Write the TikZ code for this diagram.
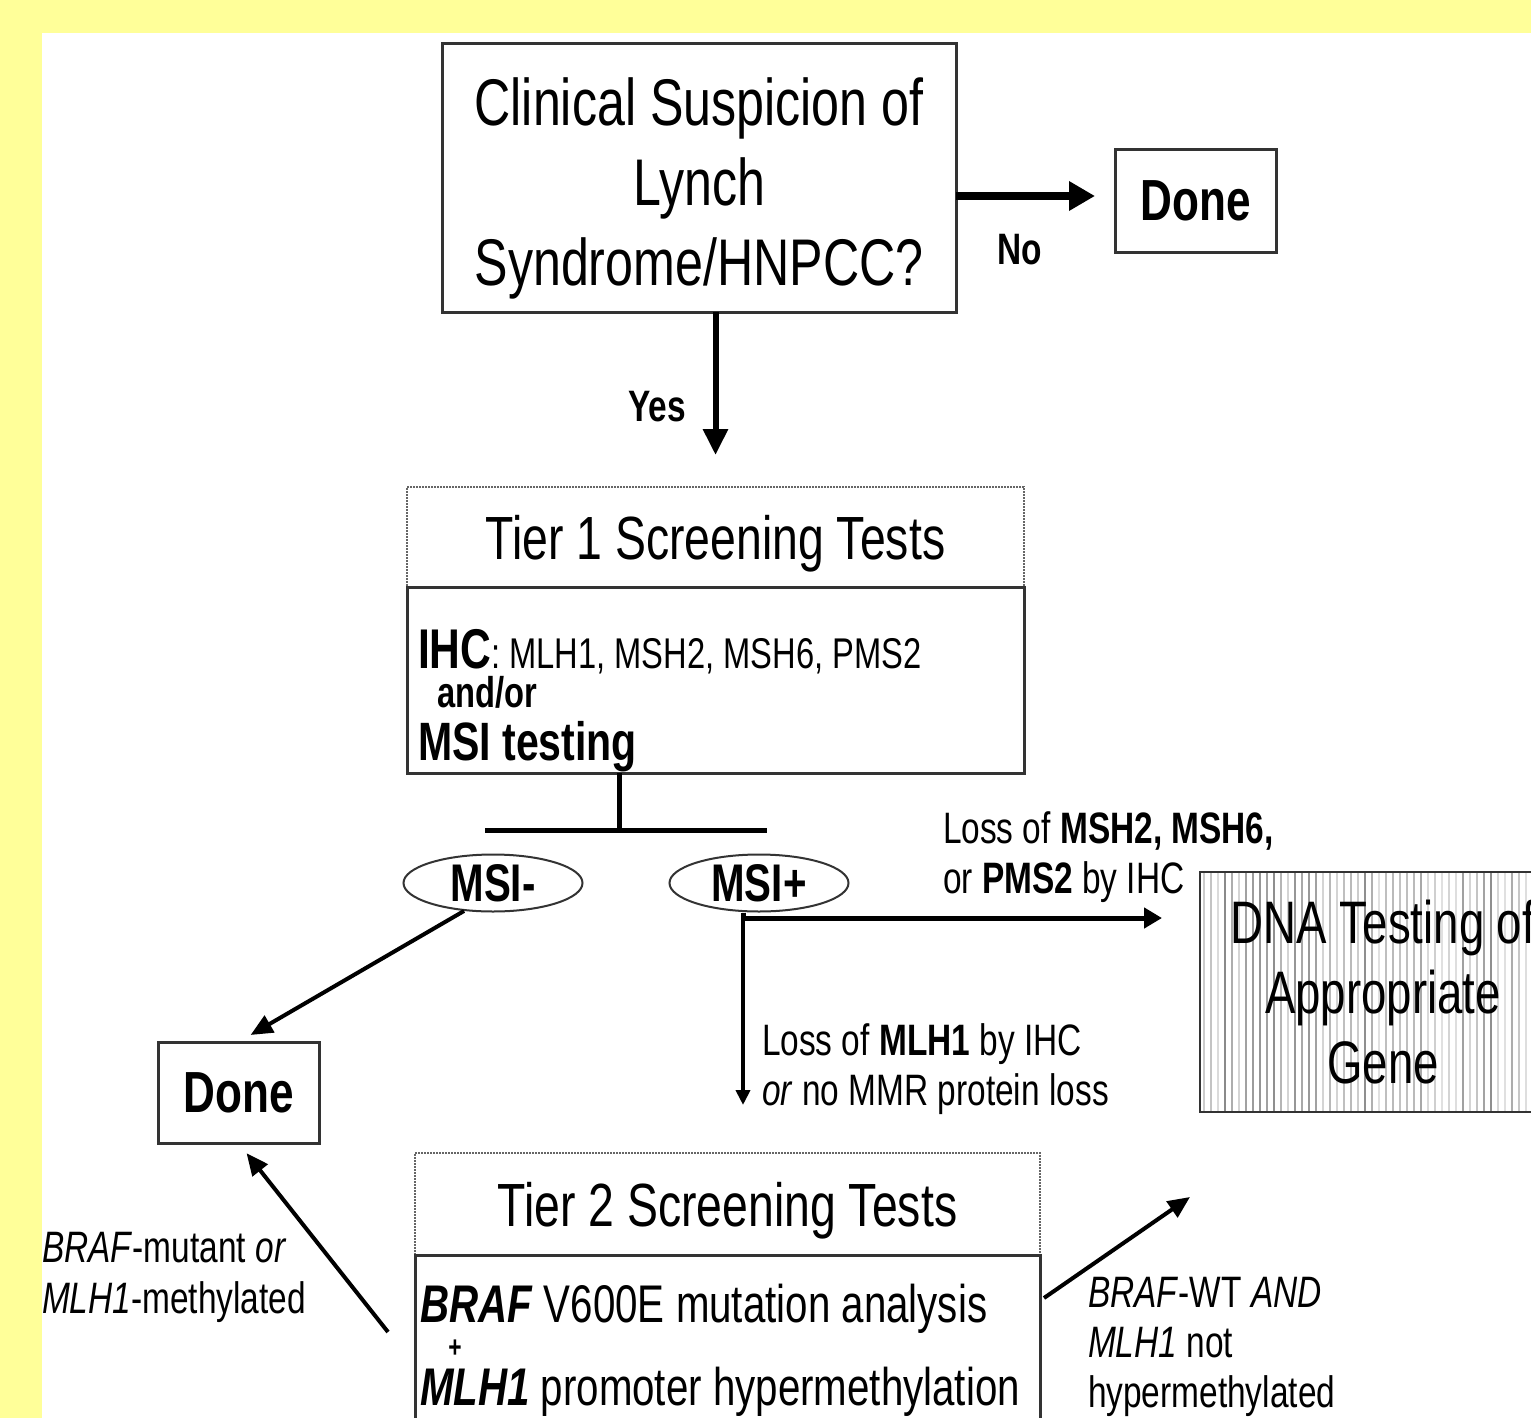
\documentclass[tikz,border=0pt]{standalone}
\usepackage{fontspec}
\setmainfont{Liberation Sans}[FakeStretch=0.76]
\usetikzlibrary{shapes.geometric, arrows.meta, positioning}
\definecolor{bgyellow}{HTML}{FFFF99}
\newcommand{\sz}[2]{\fontsize{#1}{#2}\selectfont}
\tikzstyle{box} = [rectangle, 
			draw=black!80, 
			line width=3pt, 
			outer sep=0pt, 
			inner sep=0pt, 
			text centered]
\tikzstyle{hdr} = [rectangle, 
			draw=black!60, 
			densely dotted, 
			line width=2pt, 
			outer sep=0pt, 
			inner sep=0pt, 
			text depth=0pt, 
			font=\sz{61}{61}]
\tikzstyle{oval} = [ellipse, 
			draw=black!80, 
			line width=2pt, 
			inner sep=0pt, 
			minimum width=179pt, 
			minimum height=57pt, 
			font=\sz{53}{53}\bfseries]
\tikzstyle{txt} = [inner sep=0pt, outer sep=0pt]
\tikzstyle{lbl} = [inner sep=0pt, 
			outer sep=0pt, 
			align=left, 
			anchor=north west, 
			font=\sz{44}{50}]
\tikzstyle{line} = [draw, line width=4pt, -{Triangle[length=22pt, width=19pt]}]

\begin{document}
\begin{tikzpicture}[x=1pt, y=-1pt]
	\useasboundingbox (0,0) rectangle (1531,1418);
	\fill [bgyellow] (0,0) rectangle (1531,1418);
	\fill [white] (42,33) rectangle (1531,1418);

	% question and first exit
	\node [box, align=center, minimum width=514pt, minimum height=268pt, font=\sz{66}{80}] (suspect) at (699,178) {\rule{0pt}{68pt}Clinical Suspicion of\\Lynch\\Syndrome/HNPCC?};
	\node [box, minimum width=161pt, minimum height=102pt, font=\sz{58}{58}\bfseries] (done-top) at (1195.5,201) {Done};
	\coordinate (no-start) at ([yshift=-18pt]suspect.east);
	\path [line, line width=8pt, -{Triangle[length=26pt, width=28pt]}, shorten >=20pt] (no-start) -- (no-start -| done-top.west);
	\node [txt, font=\sz{44}{44}\bfseries] (no) at (1020,250) {No};

	% tier 1
	\node [hdr, minimum width=617pt, minimum height=100pt] (tier1) at (715.5,537) {Tier 1 Screening Tests};
	\node [box, minimum width=617pt, minimum height=186pt, below=0pt of tier1] (tier1-body) {};
	\node [txt, anchor=base west] (ihc) at (418,668) {{\sz{56}{56}\bfseries IHC}\sz{43}{43}: MLH1, MSH2, MSH6, PMS2};
	\node [txt, anchor=base west, font=\sz{43}{43}\bfseries] (andor) at (437,707) {and/or};
	\node [txt, anchor=base west, font=\sz{54}{54}\bfseries] (msi) at (418,760) {MSI testing};
	\path [line, line width=6pt, -{Triangle[length=26pt, width=24pt]}, shorten >=32pt] (suspect.south -| tier1.north) -- (tier1.north);
	\node [txt, font=\sz{44}{44}\bfseries] (yes) at (657,407) {Yes};

	% split into MSI results
	\coordinate (split) at (619,830);
	\coordinate (split-l) at (485,830);
	\coordinate (split-r) at (767,830);
	\draw [line width=5pt] (tier1-body.south -| split) -- (split);
	\draw [line width=5pt] (split-l) -- (split-r);
	\node [oval] (msi-neg) at (493,883) {MSI-};
	\node [oval] (msi-pos) at (759,883) {MSI+};

	\node [box, minimum width=161pt, minimum height=101pt, font=\sz{58}{58}\bfseries] (done-left) at (238.5,1092.5) {Done};
	\path [line, shorten >=14pt] (msi-neg.224) -- (done-left.north);

	% gene testing
	\node [box, line width=2.5pt, minimum width=366pt, minimum height=240pt, align=center, font=\sz{60}{70},
		path picture={
			\pgfmathsetseed{42}
			\foreach \i in {0,...,52}{
				\pgfmathsetmacro{\lev}{int(12+36*rnd)}
				\draw [black!\lev, line width=2.6pt] ([xshift=4pt+\i*7pt]path picture bounding box.south west) -- ([xshift=4pt+\i*7pt]path picture bounding box.north west);
			}
		}] (dna) at (1383,992) {DNA Testing of\\Appropriate\\Gene};

	% tier 2
	\node [hdr, minimum width=625pt, minimum height=102pt] (tier2) at (727.5,1204) {Tier 2 Screening Tests};
	\node [box, minimum width=625pt, minimum height=200pt, below=0pt of tier2] (tier2-body) {};
	\node [txt, anchor=base west, font=\sz{53}{53}] (braf) at (420,1322) {\textbf{\textit{BRAF}} V600E mutation analysis};
	\node [txt, font=\sz{30}{30}\bfseries] (plus) at (455,1349) {+};
	\node [txt, anchor=base west, font=\sz{53}{53}] (methyl) at (420,1405) {\textbf{\textit{MLH1}} promoter hypermethylation};

	% MSI+ branches
	\coordinate (fork) at (743,918);
	\path [line, line width=5pt, -{Triangle[length=18pt, width=20pt]}, shorten >=38pt] (msi-pos.south -| fork) -- (fork) -- (fork -| dna.west);
	\path [line, -{Triangle[length=15pt, width=14pt]}, shorten >=48pt] (fork) -- (fork |- tier2.north);
	\node [lbl] (loss-msh) at (943,803) {\rule{0pt}{40pt}Loss of \textbf{MSH2, MSH6,}\\or \textbf{PMS2} by IHC};
	\node [lbl] (loss-mlh) at (762,1015) {\rule{0pt}{40pt}Loss of \textbf{MLH1} by IHC\\\textit{or} no MMR protein loss};

	% tier 2 outcomes
	\path [line, shorten >=13pt] ([shift={(-27pt,-77pt)}]tier2-body.north west) -- (done-left.south);
	\node [lbl, font=\sz{44}{51}] (braf-mut) at (42,1222) {\rule{0pt}{40pt}\textit{BRAF}-mutant \textit{or}\\\textit{MLH1}-methylated};
	\coordinate (dna-in) at ([shift={(-10pt,-85pt)}]dna.south west);
	\path [line] ([shift={(4pt,-43pt)}]tier2-body.north east) -- (dna-in);
	\node [lbl] (braf-wt) at (1088,1267) {\rule{0pt}{40pt}\textit{BRAF}-WT \textit{AND}\\\textit{MLH1} not\\hypermethylated};
\end{tikzpicture}
\end{document}
